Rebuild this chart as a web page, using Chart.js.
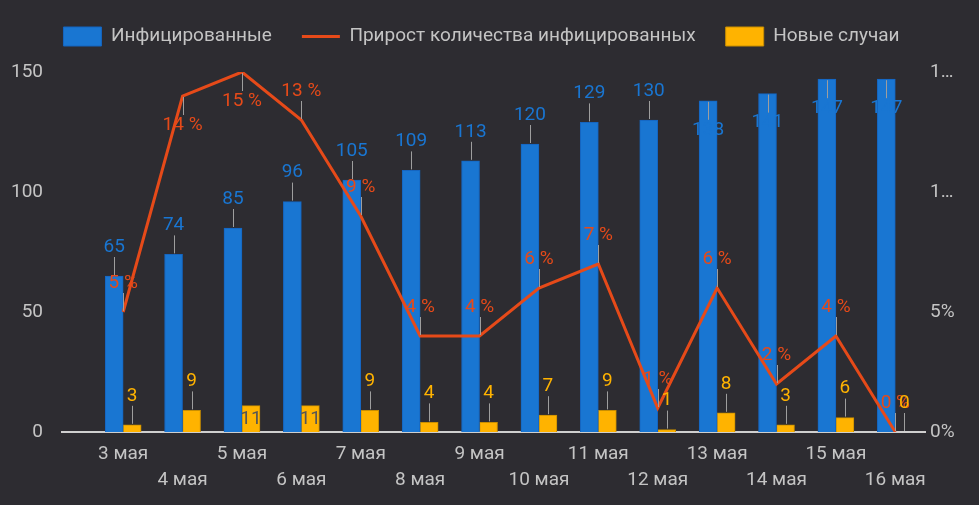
<!DOCTYPE html>
<html>
<head>
<meta charset="utf-8">
<script src="https://cdn.jsdelivr.net/npm/chart.js@4/dist/chart.umd.min.js"></script>
<style>
    html, body { margin: 0; padding: 0; background: #2d2c31; }
    #wrap { width: 979px; height: 505px; }
</style>
</head>
<body>
<div id="wrap"><canvas id="myChart"></canvas></div>
<script>
var dates = ['3 мая', '4 мая', '5 мая', '6 мая', '7 мая', '8 мая', '9 мая',
    '10 мая', '11 мая', '12 мая', '13 мая', '14 мая', '15 мая', '16 мая'];
var infected = [65, 74, 85, 96, 105, 109, 113, 120, 129, 130, 138, 141, 147, 147];
var growth = [5, 14, 15, 13, 9, 4, 4, 6, 7, 1, 6, 2, 4, 0];
var newCases = [3, 9, 11, 11, 9, 4, 4, 7, 9, 1, 8, 3, 6, 0];
var leftTicks = [0, 50, 100, 150];
var rightTicks = [0, 5, 10, 15];

(function () {
    var FONT = 'Roboto';
    var textGray = '#c4c4c4';

    function points(arr) {
        return arr.map(function (v, i) { return { x: i, y: v }; });
    }

    // google-style annotations: value + small grey stem
    var annotations = {
        id: 'annotations',
        afterDatasetsDraw: function (chart) {
            var ctx = chart.ctx;
            var area = chart.chartArea;
            var stem = 19;
            ctx.save();
            ctx.font = '19px ' + FONT;
            ctx.textAlign = 'center';
            ctx.textBaseline = 'middle';
            chart.data.datasets.forEach(function (ds, di) {
                var meta = chart.getDatasetMeta(di);
                meta.data.forEach(function (el, i) {
                    var v = ds.data[i].y;
                    var txt = ds.fmt ? ds.fmt(v) : String(v);
                    var x = el.x, y = el.y;
                    if (ds.type === 'bar' && ds.inside && (el.base - el.y) >= 24) {
                        ctx.fillStyle = '#555555';
                        ctx.fillText(txt, x, y + 14);
                        return;
                    }
                    var dir = (y - stem - 20 < area.top) ? 1 : -1;
                    ctx.strokeStyle = '#9e9e9e';
                    ctx.lineWidth = 1;
                    ctx.beginPath();
                    ctx.moveTo(Math.round(x) + 0.5, y + dir);
                    ctx.lineTo(Math.round(x) + 0.5, y + dir * stem);
                    ctx.stroke();
                    ctx.fillStyle = ds.labelColor;
                    ctx.fillText(txt, x, y + dir * (stem + 10));
                });
            });
            ctx.restore();
        }
    };

    // a bit more room under the legend
    var legendGap = {
        id: 'legendGap',
        beforeInit: function (chart) {
            var fit = chart.legend.fit;
            chart.legend.fit = function () {
                fit.bind(chart.legend)();
                this.height += 16;
            };
        }
    };

    var ctx = document.getElementById('myChart');
    new Chart(ctx, {
        type: 'bar',
        plugins: [annotations, legendGap],
        data: {
            datasets: [{
                type: 'bar',
                label: 'Инфицированные',
                data: points(infected),
                backgroundColor: '#1976d2',
                borderColor: '#1565c0',
                borderWidth: 1,
                barThickness: 18,
                pointStyle: 'rect',
                labelColor: '#1976d2',
                yAxisID: 'y',
                order: 1
            }, {
                type: 'line',
                label: 'Прирост количества инфицированных',
                data: points(growth),
                borderColor: '#e64a19',
                backgroundColor: '#e64a19',
                borderWidth: 3,
                pointRadius: 0,
                pointStyle: 'line',
                tension: 0,
                labelColor: '#e64a19',
                fmt: function (v) { return v + ' %'; },
                yAxisID: 'y1',
                order: 0
            }, {
                type: 'bar',
                label: 'Новые случаи',
                data: points(newCases),
                backgroundColor: '#ffb300',
                borderColor: '#c98e00',
                borderWidth: 1,
                barThickness: 18,
                pointStyle: 'rect',
                labelColor: '#ffb300',
                inside: true,
                yAxisID: 'y',
                order: 1
            }]
        },
        options: {
            responsive: true,
            maintainAspectRatio: false,
            animation: false,
            layout: { padding: { top: -3, left: 0, right: 16, bottom: 0 } },
            plugins: {
                tooltip: { enabled: false },
                legend: {
                    position: 'top',
                    labels: {
                        usePointStyle: true,
                        pointStyleWidth: 38,
                        boxHeight: 19,
                        padding: 30,
                        color: textGray,
                        font: { family: FONT, size: 19 },
                        sort: function (a, b) { return a.datasetIndex - b.datasetIndex; }
                    }
                }
            },
            scales: {
                x: {
                    type: 'linear',
                    offset: false,
                    min: -1.03,
                    max: 13.5,
                    grid: { display: false, drawTicks: false },
                    border: { display: true, color: '#cfcfcf', width: 2 },
                    afterBuildTicks: function (scale) {
                        scale.ticks = dates.map(function (d, i) { return { value: i }; });
                    },
                    afterFit: function (scale) { scale.height = 73; },
                    ticks: {
                        autoSkip: false,
                        maxRotation: 0,
                        minRotation: 0,
                        padding: 9,
                        color: textGray,
                        font: { family: FONT, size: 19, lineHeight: 26 / 19 },
                        callback: function (v) {
                            var d = dates[v];
                            return v % 2 ? ['', d] : d;
                        }
                    }
                },
                y: {
                    position: 'left',
                    min: 0,
                    max: 150,
                    grid: { display: false, drawTicks: false },
                    border: { display: false },
                    afterBuildTicks: function (scale) {
                        scale.ticks = leftTicks.map(function (v) { return { value: v }; });
                    },
                    afterFit: function (scale) { scale.width = 62; },
                    ticks: {
                        padding: 19,
                        color: textGray,
                        font: { family: FONT, size: 19 }
                    }
                },
                y1: {
                    position: 'right',
                    min: 0,
                    max: 15,
                    grid: { display: false, drawTicks: false },
                    border: { display: false },
                    afterBuildTicks: function (scale) {
                        scale.ticks = rightTicks.map(function (v) { return { value: v }; });
                    },
                    afterFit: function (scale) { scale.width = 38; },
                    ticks: {
                        padding: 5,
                        color: textGray,
                        font: { family: FONT, size: 19 },
                        callback: function (v) {
                            var s = v + '%';
                            // not enough room on the right, cut like the original
                            return s.length > 2 ? s.charAt(0) + '…' : s;
                        }
                    }
                }
            }
        }
    });
})()
</script>
</body>
</html>
